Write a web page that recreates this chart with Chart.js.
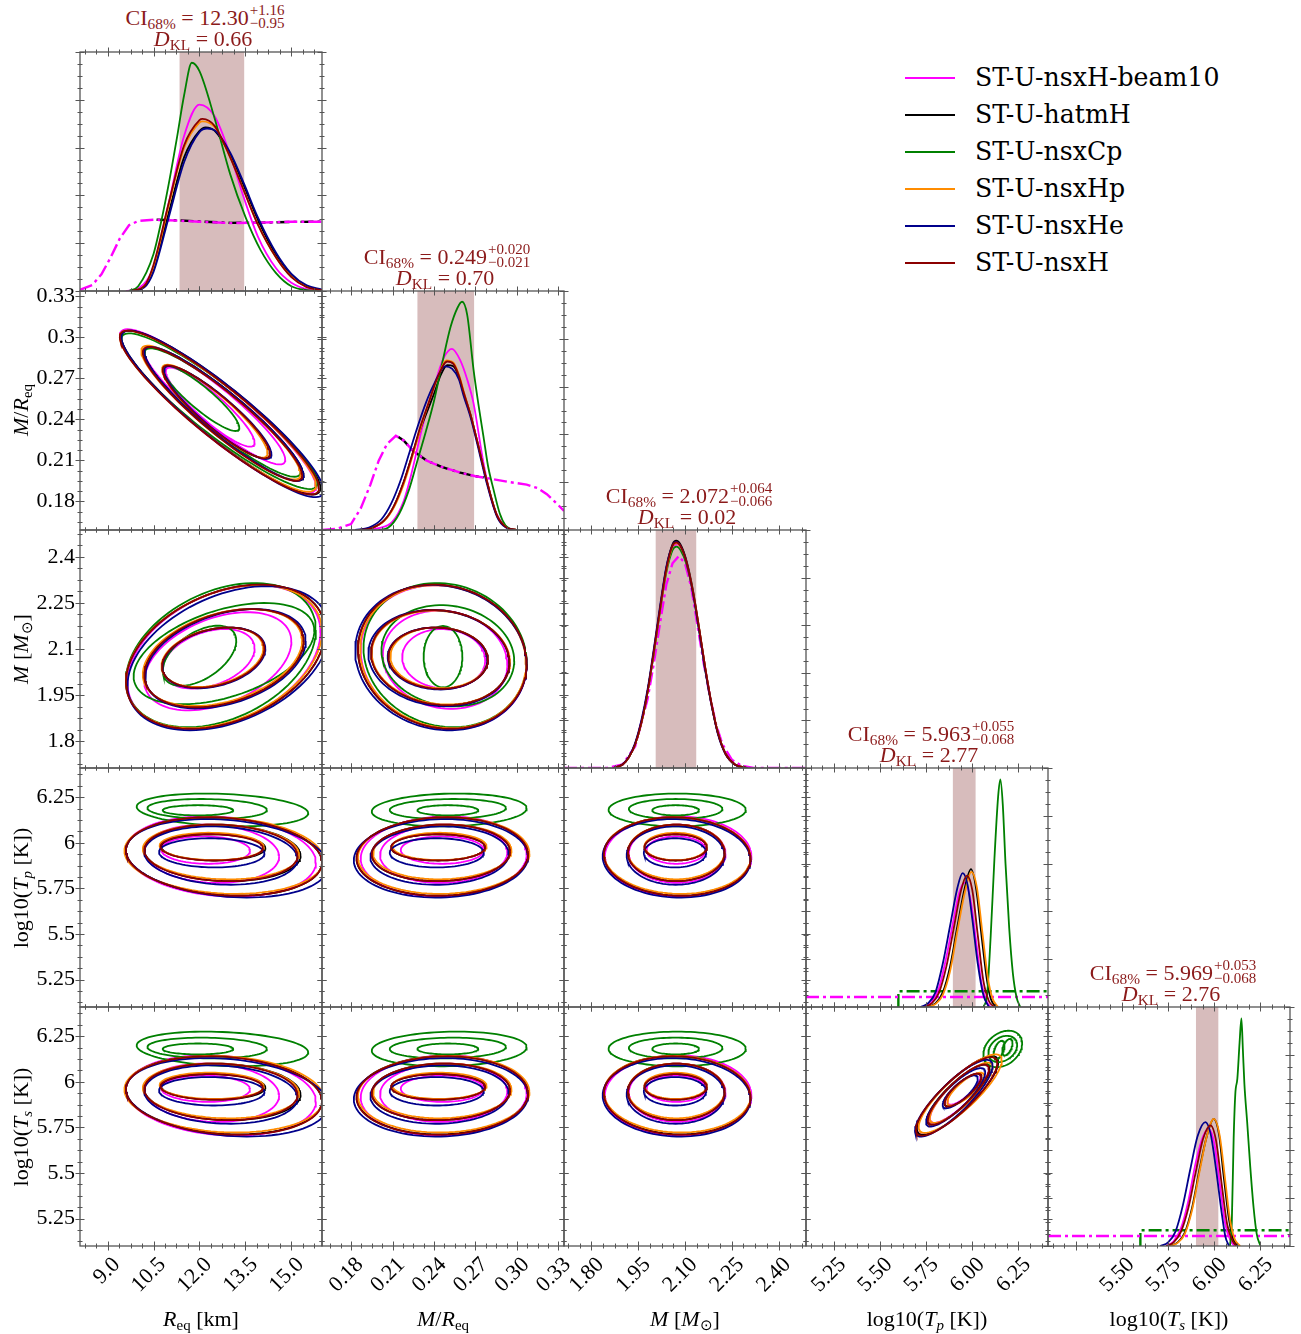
<!DOCTYPE html>
<html>
<head>
<meta charset="utf-8">
<script src="https://cdn.jsdelivr.net/npm/chart.js@4.4.1/dist/chart.umd.min.js"></script>
<style>
  html, body { margin: 0; padding: 0; background: #fff; }
  #fig { position: relative; width: 1301px; height: 1334px; overflow: hidden;
         font-family: "Liberation Serif", "Times New Roman", serif; color: #000; }
  #fig canvas { position: absolute; }
  .ci { position: absolute; transform: translateX(-50%); color: #8b1a1a; font-size: 22px;
        line-height: 22px; white-space: nowrap; }
  .ci sub { font-size: 70%; vertical-align: -0.25em; line-height: 0; }
  .ss { display: inline-block; font-size: 15px; line-height: 13px; vertical-align: -3px; margin-left: 1px; }
  .ss span { display: block; }
  .ax { position: absolute; font-size: 22px; line-height: 22px; white-space: nowrap; }
  .ax sub { font-size: 68%; vertical-align: -0.3em; line-height: 0; }
  .leg { position: absolute; left: 905px; font-family: "DejaVu Serif", "Liberation Serif", serif;
         line-height: 24px; white-space: nowrap; }
  .leg .sw { position: absolute; left: 0; top: 11px; width: 50px; height: 2px; }
  .leg .tx { position: absolute; left: 70px; top: 0; }
</style>
</head>
<body>
<div id="fig"></div>
<script>
// ---- series ----
const seriesNames = ['ST-U-nsxH-beam10', 'ST-U-hatmH', 'ST-U-nsxCp', 'ST-U-nsxHp', 'ST-U-nsxHe', 'ST-U-nsxH'];
const seriesColors = ['#ff00ff', '#000000', '#008000', '#ff8c00', '#00008b', '#8b0000'];

// ---- axes: R_eq, M/R_eq, M, log10 Tp, log10 Ts ----
const paramMin = [8.1, 0.159, 1.712, 5.10, 5.10];
const paramMax = [16.0, 0.334, 2.488, 6.41, 6.41];
const majorStep = [1.5, 0.03, 0.15, 0.25, 0.25];
const xTickValues = [[9, 10.5, 12, 13.5, 15], [0.18, 0.21, 0.24, 0.27, 0.30, 0.33],
  [1.8, 1.95, 2.1, 2.25, 2.4], [5.25, 5.5, 5.75, 6, 6.25], [5.5, 5.75, 6, 6.25]];
const xTickLabels = [['9.0', '10.5', '12.0', '13.5', '15.0'], ['0.18', '0.21', '0.24', '0.27', '0.30', '0.33'],
  ['1.80', '1.95', '2.10', '2.25', '2.40'], ['5.25', '5.50', '5.75', '6.00', '6.25'], ['5.50', '5.75', '6.00', '6.25']];
const yTickValues = [[], [0.18, 0.21, 0.24, 0.27, 0.3, 0.33], [1.8, 1.95, 2.1, 2.25, 2.4],
  [5.25, 5.5, 5.75, 6, 6.25], [5.25, 5.5, 5.75, 6, 6.25]];
const yTickLabels = [[], ['0.18', '0.21', '0.24', '0.27', '0.3', '0.33'], ['1.8', '1.95', '2.1', '2.25', '2.4'],
  ['5.25', '5.5', '5.75', '6', '6.25'], ['5.25', '5.5', '5.75', '6', '6.25']];
const axisTitles = ['<i>R</i><sub>eq</sub> [km]', '<i>M</i>/<i>R</i><sub>eq</sub>', '<i>M</i> [<i>M</i><sub>⊙</sub>]',
  'log10(<i>T<sub>p</sub></i> [K])', 'log10(<i>T<sub>s</sub></i> [K])'];

// ---- credible intervals ----
const ciMedian = [12.30, 0.249, 2.072, 5.963, 5.969];
const ciPlus = [1.16, 0.020, 0.064, 0.055, 0.053];
const ciMinus = [0.95, 0.021, 0.066, 0.068, 0.068];
const ciText = ['12.30', '0.249', '2.072', '5.963', '5.969'];
const ciPlusText = ['+1.16', '+0.020', '+0.064', '+0.055', '+0.053'];
const ciMinusText = ['−0.95', '−0.021', '−0.066', '−0.068', '−0.068'];
const dklText = ['0.66', '0.70', '0.02', '2.77', '2.76'];

// ---- 1D marginals (x, density scaled to panel height), one list per series ----
const reqMarg = [
  [[9.6,0],[10.0,0.01],[10.5,0.1],[11.0,0.37],[11.5,0.65],[12.0,0.78],[12.5,0.73],[13.0,0.57],[13.45,0.39],[13.9,0.23],[14.5,0.095],[15.0,0.035],[15.5,0.008],[16.0,0]],
  [[9.8,0],[10.2,0.02],[10.5,0.09],[11.0,0.33],[11.5,0.56],[12.0,0.67],[12.2,0.685],[12.5,0.67],[13.0,0.57],[13.45,0.44],[13.9,0.3],[14.5,0.15],[15.0,0.065],[15.5,0.02],[16.0,0.004]],
  [[9.7,0],[10.0,0.02],[10.5,0.155],[10.75,0.29],[11.0,0.45],[11.25,0.63],[11.5,0.82],[11.75,0.955],[12.0,0.92],[12.5,0.72],[13.0,0.49],[13.5,0.31],[14.0,0.17],[14.5,0.075],[15.0,0.02],[15.5,0.004],[16.0,0]],
  [[9.8,0],[10.2,0.02],[10.5,0.1],[11.0,0.36],[11.5,0.6],[12.0,0.705],[12.1,0.71],[12.5,0.685],[13.0,0.56],[13.45,0.42],[13.9,0.28],[14.5,0.14],[15.0,0.06],[15.5,0.017],[16.0,0.003]],
  [[9.8,0],[10.2,0.015],[10.5,0.08],[11.0,0.31],[11.5,0.54],[12.0,0.665],[12.25,0.68],[12.5,0.672],[13.0,0.58],[13.45,0.45],[13.9,0.31],[14.5,0.16],[15.0,0.072],[15.5,0.024],[16.0,0.006]],
  [[9.8,0],[10.2,0.02],[10.5,0.11],[11.0,0.37],[11.5,0.61],[12.0,0.715],[12.1,0.72],[12.5,0.69],[13.0,0.56],[13.45,0.42],[13.9,0.28],[14.5,0.14],[15.0,0.058],[15.5,0.016],[16.0,0.003]]
];
const reqPrior = [[8.1,0.005],[8.5,0.025],[8.8,0.07],[9.1,0.14],[9.4,0.22],[9.7,0.275],[10.0,0.293],[10.5,0.298],[11.0,0.296],[12.0,0.29],[13.0,0.284],[14.0,0.286],[15.0,0.29],[16.0,0.29]];
const reqPriorHatm = [[10.6,0.298],[11.0,0.297],[12.0,0.291],[13.0,0.285],[14.0,0.286],[15.0,0.289],[16.0,0.29]];

const mrMarg = [
  [[0.19,0],[0.2,0.008],[0.21,0.035],[0.218,0.12],[0.223,0.22],[0.2324,0.45],[0.24,0.6],[0.247,0.72],[0.253,0.758],[0.259,0.71],[0.264,0.63],[0.2686,0.53],[0.2758,0.28],[0.283,0.1],[0.2916,0.015],[0.298,0]],
  [[0.185,0],[0.195,0.008],[0.204,0.04],[0.211,0.1],[0.218,0.2],[0.224,0.31],[0.23,0.42],[0.236,0.51],[0.24,0.57],[0.245,0.65],[0.2496,0.69],[0.254,0.685],[0.258,0.64],[0.2615,0.57],[0.2665,0.48],[0.2713,0.37],[0.2784,0.2],[0.2856,0.06],[0.292,0.012],[0.3,0]],
  [[0.2,0],[0.207,0.01],[0.215,0.07],[0.222,0.17],[0.228,0.29],[0.234,0.41],[0.24,0.54],[0.246,0.7],[0.252,0.85],[0.257,0.93],[0.2603,0.955],[0.264,0.9],[0.2686,0.67],[0.272,0.53],[0.2758,0.39],[0.279,0.27],[0.283,0.17],[0.2875,0.07],[0.2916,0.02],[0.297,0]],
  [[0.185,0],[0.195,0.008],[0.204,0.038],[0.211,0.095],[0.218,0.19],[0.224,0.3],[0.23,0.42],[0.236,0.53],[0.242,0.63],[0.249,0.71],[0.254,0.7],[0.258,0.65],[0.2615,0.58],[0.2665,0.48],[0.2713,0.37],[0.2784,0.2],[0.2856,0.06],[0.292,0.012],[0.3,0]],
  [[0.183,0],[0.193,0.01],[0.202,0.045],[0.209,0.11],[0.216,0.21],[0.222,0.32],[0.228,0.43],[0.234,0.53],[0.24,0.61],[0.248,0.685],[0.253,0.675],[0.258,0.63],[0.2615,0.56],[0.2665,0.47],[0.2713,0.36],[0.2784,0.19],[0.2856,0.055],[0.292,0.01],[0.3,0]],
  [[0.185,0],[0.195,0.008],[0.204,0.04],[0.211,0.1],[0.218,0.2],[0.224,0.31],[0.23,0.43],[0.236,0.53],[0.242,0.63],[0.2496,0.705],[0.254,0.695],[0.258,0.645],[0.2615,0.575],[0.2665,0.48],[0.2713,0.37],[0.2784,0.2],[0.2856,0.06],[0.292,0.012],[0.3,0]]
];
const mrPrior = [[0.159,0],[0.17,0.005],[0.18,0.025],[0.187,0.09],[0.194,0.19],[0.2,0.29],[0.206,0.36],[0.2124,0.394],[0.218,0.375],[0.225,0.33],[0.2348,0.29],[0.245,0.265],[0.259,0.24],[0.27,0.225],[0.2806,0.215],[0.295,0.2],[0.307,0.19],[0.315,0.175],[0.3216,0.15],[0.328,0.115],[0.334,0.08]];
const mrPriorHatm = [[0.214,0.39],[0.218,0.375],[0.225,0.33],[0.2348,0.29],[0.245,0.265],[0.259,0.24],[0.27,0.225],[0.276,0.22]];

const mMarg = [
  [[1.87,0],[1.9,0.015],[1.92,0.045],[1.94,0.1],[1.96,0.19],[1.98,0.32],[2.0,0.48],[2.02,0.66],[2.04,0.83],[2.06,0.925],[2.074,0.94],[2.088,0.925],[2.105,0.86],[2.125,0.74],[2.145,0.585],[2.165,0.42],[2.185,0.27],[2.205,0.15],[2.23,0.06],[2.26,0.015],[2.3,0]],
  [[1.87,0],[1.9,0.015],[1.92,0.045],[1.94,0.1],[1.96,0.19],[1.98,0.32],[2.0,0.49],[2.02,0.67],[2.04,0.84],[2.06,0.94],[2.072,0.955],[2.085,0.94],[2.105,0.87],[2.125,0.75],[2.145,0.59],[2.165,0.42],[2.185,0.27],[2.205,0.15],[2.23,0.06],[2.26,0.015],[2.3,0]],
  [[1.87,0],[1.9,0.015],[1.92,0.045],[1.94,0.1],[1.96,0.19],[1.98,0.32],[2.0,0.48],[2.02,0.66],[2.04,0.82],[2.06,0.915],[2.073,0.93],[2.086,0.915],[2.105,0.855],[2.125,0.74],[2.145,0.58],[2.165,0.41],[2.185,0.265],[2.205,0.15],[2.23,0.06],[2.26,0.015],[2.3,0]],
  [[1.87,0],[1.9,0.015],[1.92,0.045],[1.94,0.1],[1.96,0.19],[1.98,0.32],[2.0,0.485],[2.02,0.665],[2.04,0.83],[2.06,0.93],[2.072,0.945],[2.085,0.93],[2.105,0.865],[2.125,0.745],[2.145,0.59],[2.165,0.42],[2.185,0.27],[2.205,0.15],[2.23,0.06],[2.26,0.015],[2.3,0]],
  [[1.87,0],[1.9,0.016],[1.92,0.047],[1.94,0.105],[1.96,0.2],[1.98,0.33],[2.0,0.5],[2.02,0.68],[2.04,0.845],[2.06,0.935],[2.071,0.95],[2.085,0.935],[2.105,0.865],[2.125,0.74],[2.145,0.58],[2.165,0.41],[2.185,0.265],[2.205,0.145],[2.23,0.058],[2.26,0.014],[2.3,0]],
  [[1.87,0],[1.9,0.015],[1.92,0.045],[1.94,0.1],[1.96,0.19],[1.98,0.32],[2.0,0.49],[2.02,0.67],[2.04,0.835],[2.06,0.935],[2.072,0.948],[2.085,0.935],[2.105,0.865],[2.125,0.745],[2.145,0.59],[2.165,0.42],[2.185,0.27],[2.205,0.15],[2.23,0.06],[2.26,0.015],[2.3,0]]
];
const mPrior = [[1.712,0],[1.85,0],[1.9,0.015],[1.94,0.09],[1.98,0.29],[2.0,0.44],[2.02,0.61],[2.04,0.77],[2.06,0.86],[2.08,0.89],[2.1,0.86],[2.12,0.76],[2.14,0.6],[2.16,0.44],[2.18,0.3],[2.2,0.18],[2.22,0.1],[2.25,0.035],[2.28,0.01],[2.32,0],[2.488,0]];

const tpMarg = [
  [[5.74,0],[5.78,0.02],[5.82,0.08],[5.86,0.21],[5.9,0.37],[5.93,0.48],[5.96,0.52],[5.99,0.45],[6.02,0.28],[6.05,0.1],[6.08,0.02],[6.1,0]],
  [[5.76,0],[5.8,0.015],[5.84,0.06],[5.88,0.17],[5.92,0.34],[5.96,0.5],[5.993,0.577],[6.02,0.5],[6.05,0.3],[6.08,0.11],[6.1,0.035],[6.13,0]],
  [[6.06,0],[6.08,0.05],[6.1,0.3],[6.12,0.62],[6.14,0.88],[6.152,0.952],[6.165,0.85],[6.18,0.6],[6.2,0.33],[6.22,0.14],[6.24,0.04],[6.26,0]],
  [[5.76,0],[5.8,0.012],[5.84,0.05],[5.88,0.15],[5.92,0.32],[5.96,0.48],[5.995,0.565],[6.025,0.5],[6.055,0.31],[6.085,0.12],[6.11,0.035],[6.14,0]],
  [[5.72,0],[5.76,0.015],[5.8,0.06],[5.84,0.18],[5.88,0.34],[5.92,0.5],[5.948,0.56],[5.975,0.51],[6.0,0.37],[6.03,0.18],[6.06,0.05],[6.09,0]],
  [[5.74,0],[5.78,0.015],[5.82,0.06],[5.86,0.17],[5.9,0.33],[5.94,0.49],[5.971,0.55],[6.0,0.49],[6.03,0.3],[6.06,0.11],[6.09,0.025],[6.12,0]]
];
const tsMarg = [
  [[5.74,0],[5.78,0.02],[5.82,0.075],[5.86,0.19],[5.9,0.35],[5.94,0.46],[5.97,0.49],[6.0,0.43],[6.03,0.26],[6.06,0.09],[6.09,0.02],[6.11,0]],
  [[5.76,0],[5.8,0.014],[5.84,0.055],[5.88,0.16],[5.92,0.32],[5.96,0.46],[5.997,0.532],[6.025,0.47],[6.05,0.3],[6.08,0.11],[6.1,0.035],[6.13,0]],
  [[6.085,0],[6.095,0.1],[6.105,0.45],[6.114,0.637],[6.125,0.7],[6.137,0.85],[6.147,0.952],[6.155,0.82],[6.163,0.68],[6.178,0.52],[6.195,0.33],[6.213,0.16],[6.23,0.05],[6.25,0]],
  [[5.76,0],[5.8,0.012],[5.84,0.05],[5.88,0.15],[5.92,0.31],[5.96,0.46],[5.997,0.532],[6.03,0.46],[6.06,0.27],[6.085,0.11],[6.11,0.03],[6.14,0]],
  [[5.707,0],[5.75,0.015],[5.79,0.06],[5.83,0.17],[5.87,0.32],[5.91,0.46],[5.952,0.518],[5.98,0.47],[6.01,0.32],[6.04,0.14],[6.06,0.04],[6.08,0]],
  [[5.74,0],[5.78,0.015],[5.82,0.06],[5.86,0.16],[5.9,0.31],[5.94,0.45],[5.98,0.505],[6.01,0.44],[6.04,0.26],[6.07,0.09],[6.1,0.02],[6.12,0]]
];
const tPrior = [[5.10,0.042],[6.41,0.042]];
const tPriorCp = [[5.6,0],[5.6,0.066],[6.41,0.066]];

// ---- 2D contours: [series, centre x, centre y, half-width x, half-width y, tilt] ----
const contReqMR = [
  [0,12.6,0.246,3.2,0.060,-0.92],[0,12.5,0.250,2.3,0.043,-0.92],[0,12.35,0.249,1.45,0.029,-0.90],
  [1,12.7,0.245,3.25,0.060,-0.92],[1,12.8,0.244,2.6,0.049,-0.92],[1,12.55,0.2455,1.75,0.034,-0.90],
  [2,12.65,0.246,3.2,0.057,-0.92],[2,12.75,0.245,2.55,0.047,-0.92],[2,12.05,0.2555,1.25,0.024,-0.90],
  [3,12.6,0.246,3.2,0.059,-0.92],[3,12.7,0.245,2.6,0.049,-0.92],[3,12.5,0.246,1.72,0.034,-0.90],
  [4,12.75,0.244,3.3,0.061,-0.92],[4,12.8,0.244,2.6,0.049,-0.92],[4,12.6,0.245,1.75,0.034,-0.90],
  [5,12.65,0.245,3.25,0.060,-0.92],[5,12.75,0.244,2.6,0.049,-0.92],[5,12.55,0.2455,1.75,0.034,-0.90]
];
const contReqM = [
  [0,12.8,2.073,3.15,0.235,0.35],[0,12.6,2.06,2.4,0.16,0.4],[0,12.3,2.068,1.5,0.097,0.35],
  [1,12.85,2.075,3.25,0.235,0.35],[1,12.8,2.07,2.6,0.16,0.35],[1,12.45,2.072,1.67,0.098,0.3],
  [2,12.7,2.08,3.1,0.235,0.35],[2,12.8,2.085,2.95,0.165,0.45],[2,12.0,2.078,1.2,0.098,0.5],
  [3,12.8,2.075,3.2,0.233,0.35],[3,12.75,2.072,2.6,0.158,0.35],[3,12.42,2.073,1.66,0.097,0.3],
  [4,12.95,2.07,3.3,0.235,0.38],[4,12.85,2.068,2.62,0.162,0.36],[4,12.47,2.071,1.68,0.099,0.3],
  [5,12.85,2.075,3.25,0.235,0.35],[5,12.8,2.07,2.6,0.16,0.35],[5,12.45,2.072,1.67,0.098,0.3]
];
const contReqTp = [
  [0,12.7,5.925,3.1,0.22,-0.15],[0,12.4,5.94,2.2,0.16,-0.1],[0,12.2,5.96,1.45,0.075,-0.05],
  [1,12.8,5.925,3.2,0.215,-0.15],[1,12.75,5.945,2.55,0.155,-0.1],[1,12.45,5.975,1.7,0.072,-0.05],
  [2,12.75,6.18,2.8,0.09,-0.2],[2,12.25,6.185,1.95,0.055,-0.1],[2,11.95,6.178,1.15,0.028,0],
  [3,12.8,5.93,3.25,0.21,-0.12],[3,12.7,5.95,2.55,0.15,-0.1],[3,12.4,5.98,1.7,0.075,-0.05],
  [4,12.9,5.915,3.3,0.215,-0.2],[4,12.7,5.93,2.5,0.16,-0.12],[4,12.4,5.945,1.72,0.08,-0.05],
  [5,12.8,5.925,3.2,0.215,-0.15],[5,12.7,5.945,2.5,0.155,-0.1],[5,12.4,5.975,1.67,0.072,-0.05]
];
const contReqTs = [
  [0,12.7,5.925,3.1,0.22,-0.15],[0,12.4,5.94,2.2,0.16,-0.1],[0,12.2,5.962,1.45,0.072,-0.05],
  [1,12.8,5.927,3.2,0.215,-0.15],[1,12.75,5.945,2.55,0.155,-0.1],[1,12.45,5.972,1.7,0.07,-0.05],
  [2,12.75,6.18,2.8,0.095,-0.2],[2,12.25,6.185,1.95,0.057,-0.1],[2,11.95,6.18,1.15,0.03,0],
  [3,12.8,5.932,3.25,0.21,-0.12],[3,12.7,5.95,2.55,0.15,-0.1],[3,12.4,5.978,1.7,0.072,-0.05],
  [4,12.9,5.915,3.3,0.215,-0.2],[4,12.7,5.93,2.5,0.16,-0.12],[4,12.4,5.948,1.72,0.078,-0.05],
  [5,12.8,5.925,3.2,0.215,-0.15],[5,12.7,5.945,2.5,0.155,-0.1],[5,12.4,5.972,1.67,0.07,-0.05]
];
const contMRM = [
  [0,0.247,2.073,0.06,0.235,-0.1],[0,0.248,2.065,0.045,0.16,-0.1],[0,0.247,2.068,0.03,0.097,-0.05],
  [1,0.246,2.075,0.061,0.235,-0.1],[1,0.2445,2.072,0.05,0.155,-0.1],[1,0.243,2.07,0.036,0.1,-0.05],
  [2,0.248,2.08,0.059,0.235,-0.1],[2,0.25,2.078,0.048,0.165,-0.1],[2,0.2465,2.075,0.014,0.1,0],
  [3,0.2465,2.075,0.06,0.233,-0.1],[3,0.245,2.072,0.05,0.153,-0.1],[3,0.2435,2.071,0.035,0.099,-0.05],
  [4,0.245,2.072,0.062,0.237,-0.1],[4,0.2435,2.07,0.051,0.157,-0.1],[4,0.2425,2.069,0.036,0.101,-0.05],
  [5,0.246,2.075,0.061,0.235,-0.1],[5,0.2445,2.072,0.05,0.155,-0.1],[5,0.243,2.07,0.036,0.1,-0.05]
];
const contMRTp = [
  [0,0.247,5.925,0.06,0.22,0.05],[0,0.247,5.94,0.046,0.16,0.05],[0,0.246,5.96,0.03,0.075,0],
  [1,0.246,5.925,0.062,0.215,0.05],[1,0.245,5.945,0.05,0.155,0.05],[1,0.243,5.975,0.034,0.072,0],
  [2,0.251,6.18,0.056,0.09,0.1],[2,0.25,6.185,0.042,0.055,0.1],[2,0.25,6.178,0.022,0.028,0],
  [3,0.247,5.93,0.062,0.21,0.05],[3,0.246,5.95,0.05,0.15,0.05],[3,0.244,5.98,0.034,0.075,0],
  [4,0.245,5.915,0.063,0.215,0.05],[4,0.244,5.93,0.05,0.16,0.05],[4,0.242,5.945,0.034,0.08,0],
  [5,0.246,5.925,0.062,0.215,0.05],[5,0.245,5.945,0.05,0.155,0.05],[5,0.243,5.975,0.034,0.072,0]
];
const contMRTs = [
  [0,0.247,5.925,0.06,0.22,0.05],[0,0.247,5.94,0.046,0.16,0.05],[0,0.246,5.962,0.03,0.072,0],
  [1,0.246,5.927,0.062,0.215,0.05],[1,0.245,5.945,0.05,0.155,0.05],[1,0.243,5.972,0.034,0.07,0],
  [2,0.251,6.18,0.056,0.095,0.1],[2,0.25,6.185,0.042,0.057,0.1],[2,0.25,6.18,0.022,0.03,0],
  [3,0.247,5.932,0.062,0.21,0.05],[3,0.246,5.95,0.05,0.15,0.05],[3,0.244,5.978,0.034,0.072,0],
  [4,0.245,5.915,0.063,0.215,0.05],[4,0.244,5.93,0.05,0.16,0.05],[4,0.242,5.948,0.034,0.078,0],
  [5,0.246,5.925,0.062,0.215,0.05],[5,0.245,5.945,0.05,0.155,0.05],[5,0.243,5.972,0.034,0.07,0]
];
const contMTp = [
  [0,2.078,5.925,0.235,0.22,0],[0,2.075,5.94,0.155,0.16,0],[0,2.072,5.96,0.095,0.075,0],
  [1,2.075,5.925,0.235,0.215,-0.05],[1,2.072,5.945,0.155,0.155,0],[1,2.07,5.975,0.1,0.072,0],
  [2,2.075,6.18,0.22,0.09,0],[2,2.07,6.185,0.15,0.055,0],[2,2.07,6.178,0.075,0.028,0],
  [3,2.075,5.93,0.235,0.21,-0.05],[3,2.072,5.95,0.155,0.15,0],[3,2.07,5.98,0.1,0.075,0],
  [4,2.073,5.915,0.237,0.215,-0.05],[4,2.07,5.93,0.157,0.16,0],[4,2.068,5.945,0.1,0.08,0],
  [5,2.075,5.925,0.235,0.215,-0.05],[5,2.072,5.945,0.155,0.155,0],[5,2.07,5.975,0.1,0.072,0]
];
const contMTs = [
  [0,2.078,5.925,0.235,0.22,0],[0,2.075,5.94,0.155,0.16,0],[0,2.072,5.962,0.095,0.072,0],
  [1,2.075,5.927,0.235,0.215,-0.05],[1,2.072,5.945,0.155,0.155,0],[1,2.07,5.972,0.1,0.07,0],
  [2,2.075,6.18,0.22,0.095,0],[2,2.07,6.185,0.15,0.057,0],[2,2.07,6.18,0.075,0.03,0],
  [3,2.075,5.932,0.235,0.21,-0.05],[3,2.072,5.95,0.155,0.15,0],[3,2.07,5.978,0.1,0.072,0],
  [4,2.073,5.915,0.237,0.215,-0.05],[4,2.07,5.93,0.157,0.16,0],[4,2.068,5.948,0.1,0.078,0],
  [5,2.075,5.925,0.235,0.215,-0.05],[5,2.072,5.945,0.155,0.155,0],[5,2.07,5.972,0.1,0.07,0]
];
const contTpTs = [
  [0,5.92,5.925,0.22,0.215,0.85],[0,5.93,5.935,0.16,0.16,0.85],[0,5.955,5.96,0.09,0.085,0.8],
  [1,5.92,5.925,0.22,0.215,0.85],[1,5.925,5.93,0.17,0.165,0.85],[1,5.95,5.955,0.1,0.09,0.8],
  [2,6.165,6.18,0.105,0.1,0.3],[2,6.165,6.18,0.078,0.072,0.3],[2,6.145,6.175,0.03,0.05,0.5],[2,6.19,6.19,0.028,0.045,0.5],
  [3,5.935,5.935,0.225,0.215,0.85],[3,5.94,5.94,0.17,0.165,0.85],[3,5.965,5.96,0.1,0.09,0.8],
  [4,5.9,5.91,0.21,0.21,0.85],[4,5.91,5.915,0.16,0.16,0.85],[4,5.935,5.945,0.095,0.09,0.8],
  [5,5.915,5.92,0.22,0.215,0.85],[5,5.925,5.93,0.165,0.165,0.85],[5,5.95,5.955,0.1,0.09,0.8]
];

// ---- layout of the grid ----
const GX = 80, GY = 52, CW = 242, CH = 238.8;
const fontFamily = '"Liberation Serif", "Times New Roman", serif';
const fig = document.getElementById('fig');

function markList(min, max, step) {
  const minor = step / 4, out = [];
  for (let k = Math.ceil(min / minor - 1e-9); k * minor <= max + 1e-9; k++) {
    const v = k * minor;
    out.push([v, Math.abs(v / step - Math.round(v / step)) < 1e-6]);
  }
  return out;
}

// spines and in-out tick marks on all four sides
const framePlugin = {
  id: 'frame',
  afterDatasetsDraw(chart, args, o) {
    const { ctx, chartArea: a } = chart;
    const xs = chart.scales.x, ys = chart.scales.y;
    ctx.save();
    ctx.strokeStyle = '#555';
    ctx.lineWidth = 1;
    ctx.beginPath();
    markList(o.xMin, o.xMax, o.xStep).forEach(([v, big]) => {
      const p = Math.round(xs.getPixelForValue(v)) + 0.5, L = big ? 4.5 : 2.5;
      ctx.moveTo(p, a.top - L); ctx.lineTo(p, a.top + L);
      ctx.moveTo(p, a.bottom - L); ctx.lineTo(p, a.bottom + L);
    });
    markList(o.yMin, o.yMax, o.yStep).forEach(([v, big]) => {
      const p = Math.round(ys.getPixelForValue(v)) + 0.5, L = big ? 4.5 : 2.5;
      ctx.moveTo(a.left - L, p); ctx.lineTo(a.left + L, p);
      ctx.moveTo(a.right - L, p); ctx.lineTo(a.right + L, p);
    });
    ctx.stroke();
    ctx.lineWidth = 1.3;
    ctx.strokeStyle = '#555';
    ctx.strokeRect(a.left, a.top, a.right - a.left, a.bottom - a.top);
    ctx.restore();
  }
};

// shaded 68% credible band on the diagonal
const bandPlugin = {
  id: 'band',
  beforeDatasetsDraw(chart, args, o) {
    if (o.lo === undefined) return;
    const { ctx, chartArea: a } = chart;
    const x0 = chart.scales.x.getPixelForValue(o.lo), x1 = chart.scales.x.getPixelForValue(o.hi);
    ctx.save();
    ctx.fillStyle = 'rgba(188,143,143,0.6)';
    ctx.fillRect(x0, a.top, x1 - x0, a.bottom - a.top);
    ctx.restore();
  }
};

function ellipse(cx, cy, sx, sy, rho) {
  const pts = [], k = Math.sqrt(1 - rho * rho);
  for (let i = 0; i <= 96; i++) {
    const t = i / 96 * 2 * Math.PI;
    pts.push({ x: cx + sx * Math.cos(t), y: cy + sy * (rho * Math.cos(t) + k * Math.sin(t)) });
  }
  return pts;
}

function toXY(list) { return list.map(([x, y]) => ({ x, y })); }

function panel(row, col, datasets, band) {
  const left = GX + col * CW, top = Math.round(GY + row * CH);
  const w = CW, h = Math.round(GY + (row + 1) * CH) - top;
  const showX = row === 4, showY = col === 0 && row > 0, diag = row === col;
  const pad = 8, padL = showY ? 80 : pad, padB = showX ? 80 : pad;
  const cv = document.createElement('canvas');
  cv.width = w + padL + pad; cv.height = h + pad + padB;
  cv.style.left = (left - padL) + 'px'; cv.style.top = (top - pad) + 'px';
  fig.appendChild(cv);

  const yMin = diag ? 0 : paramMin[row], yMax = diag ? 1 : paramMax[row];
  // first dataset is drawn on top in Chart.js, so reverse the plotting order
  const ds = datasets.slice().reverse();

  new Chart(cv, {
    type: 'scatter',
    data: { datasets: ds },
    options: {
      responsive: false, animation: false, devicePixelRatio: 1, events: [],
      layout: { padding: { left: showY ? 0 : padL, right: pad, top: pad, bottom: showX ? 0 : padB } },
      elements: { point: { radius: 0 }, line: { borderWidth: 1.8 } },
      plugins: {
        legend: { display: false }, tooltip: { enabled: false },
        frame: { xMin: paramMin[col], xMax: paramMax[col], xStep: majorStep[col],
                 yMin: yMin, yMax: yMax, yStep: diag ? 0.2 : majorStep[row] },
        band: band || {}
      },
      scales: {
        x: {
          type: 'linear', min: paramMin[col], max: paramMax[col], display: showX,
          grid: { display: false, drawTicks: false }, border: { display: false },
          afterBuildTicks: s => { s.ticks = xTickValues[col].map(v => ({ value: v })); },
          afterFit: s => { if (showX) { s.height = padB; s.paddingLeft = 0; s.paddingRight = 0; } },
          ticks: { autoSkip: false, minRotation: 45, maxRotation: 45, padding: 6, labelOffset: 9, color: '#000',
                   font: { family: fontFamily, size: 22 }, callback: (v, i) => xTickLabels[col][i] }
        },
        y: {
          type: 'linear', min: yMin, max: yMax, display: showY,
          grid: { display: false, drawTicks: false }, border: { display: false },
          afterBuildTicks: s => { s.ticks = (diag ? [] : yTickValues[row]).map(v => ({ value: v })); },
          afterFit: s => { if (showY) { s.width = padL; s.paddingTop = 0; s.paddingBottom = 0; } },
          ticks: { autoSkip: false, padding: 5, color: '#000',
                   font: { family: fontFamily, size: 22 }, callback: (v, i) => yTickLabels[row][i] }
        }
      }
    },
    plugins: [bandPlugin, framePlugin]
  });
}

function lineSet(points, color, dash, width, smooth) {
  return { data: toXY(points), showLine: true, borderColor: color, borderWidth: width || 1.8,
           borderDash: dash || [], pointRadius: 0, fill: false,
           cubicInterpolationMode: smooth ? 'monotone' : 'default', tension: 0 };
}
const dashDot = [13, 4, 3, 4];

function marginalSets(marg, priors) {
  const sets = priors.map(([pts, color]) => lineSet(pts, color, dashDot, 2.4, false));
  marg.forEach((pts, s) => sets.push(lineSet(pts, seriesColors[s], null, 1.8, true)));
  return sets;
}
function contourSets(spec) {
  const sets = [];
  seriesNames.forEach((name, s) => spec.filter(r => r[0] === s).forEach(r => {
    sets.push({ data: ellipse(r[1], r[2], r[3], r[4], r[5]), showLine: true, borderColor: seriesColors[s],
                borderWidth: 1.8, pointRadius: 0, fill: false, tension: 0 });
  }));
  return sets;
}
function bandOf(i) { return { lo: ciMedian[i] - ciMinus[i], hi: ciMedian[i] + ciPlus[i] }; }

// diagonal
panel(0, 0, marginalSets(reqMarg, [[reqPriorHatm, '#000000'], [reqPrior, '#ff00ff']]), bandOf(0));
panel(1, 1, marginalSets(mrMarg, [[mrPriorHatm, '#000000'], [mrPrior, '#ff00ff']]), bandOf(1));
panel(2, 2, marginalSets(mMarg, [[mPrior, '#ff00ff']]), bandOf(2));
panel(3, 3, marginalSets(tpMarg, [[tPriorCp, '#008000'], [tPrior, '#ff00ff']]), bandOf(3));
panel(4, 4, marginalSets(tsMarg, [[tPriorCp, '#008000'], [tPrior, '#ff00ff']]), bandOf(4));
// lower triangle
panel(1, 0, contourSets(contReqMR));
panel(2, 0, contourSets(contReqM));
panel(3, 0, contourSets(contReqTp));
panel(4, 0, contourSets(contReqTs));
panel(2, 1, contourSets(contMRM));
panel(3, 1, contourSets(contMRTp));
panel(4, 1, contourSets(contMRTs));
panel(3, 2, contourSets(contMTp));
panel(4, 2, contourSets(contMTs));
panel(4, 3, contourSets(contTpTs));

// credible-interval annotations above the diagonal panels
for (let c = 0; c < 5; c++) {
  const cx = GX + c * CW + CW / 2 + 4, ptop = Math.round(GY + c * CH);
  const l1 = document.createElement('div');
  l1.className = 'ci';
  l1.style.left = cx + 'px'; l1.style.top = (ptop - 48) + 'px';
  l1.innerHTML = 'CI<sub>68%</sub> = ' + ciText[c] + '<span class="ss"><span>' + ciPlusText[c] +
                 '</span><span>' + ciMinusText[c] + '</span></span>';
  fig.appendChild(l1);
  const l2 = document.createElement('div');
  l2.className = 'ci';
  l2.style.left = (cx - 2) + 'px'; l2.style.top = (ptop - 24) + 'px';
  l2.innerHTML = '<i>D</i><sub>KL</sub> = ' + dklText[c];
  fig.appendChild(l2);
}

// axis titles
for (let c = 0; c < 5; c++) {
  const d = document.createElement('div');
  d.className = 'ax';
  d.style.left = (GX + c * CW + CW / 2) + 'px'; d.style.top = '1308px';
  d.style.transform = 'translateX(-50%)';
  d.innerHTML = axisTitles[c];
  fig.appendChild(d);
}
for (let r = 1; r < 5; r++) {
  const d = document.createElement('div');
  d.className = 'ax';
  d.style.left = '21px'; d.style.top = (GY + (r + 0.5) * CH) + 'px';
  d.style.transform = 'translate(-50%, -50%) rotate(-90deg)';
  d.innerHTML = axisTitles[r];
  fig.appendChild(d);
}

// legend: size the text so the longest entry is as wide as in the figure
const legCtx = document.createElement('canvas').getContext('2d');
legCtx.font = '24px "DejaVu Serif", "Liberation Serif", serif';
const legSize = Math.min(30, 24 * 245 / legCtx.measureText(seriesNames[0]).width);
seriesNames.forEach((name, i) => {
  const d = document.createElement('div');
  d.className = 'leg';
  d.style.top = (66 + i * 37) + 'px';
  d.style.fontSize = legSize.toFixed(1) + 'px';
  d.innerHTML = '<span class="sw" style="background:' + seriesColors[i] + '"></span><span class="tx">' + name + '</span>';
  fig.appendChild(d);
});
</script>
</body>
</html>
